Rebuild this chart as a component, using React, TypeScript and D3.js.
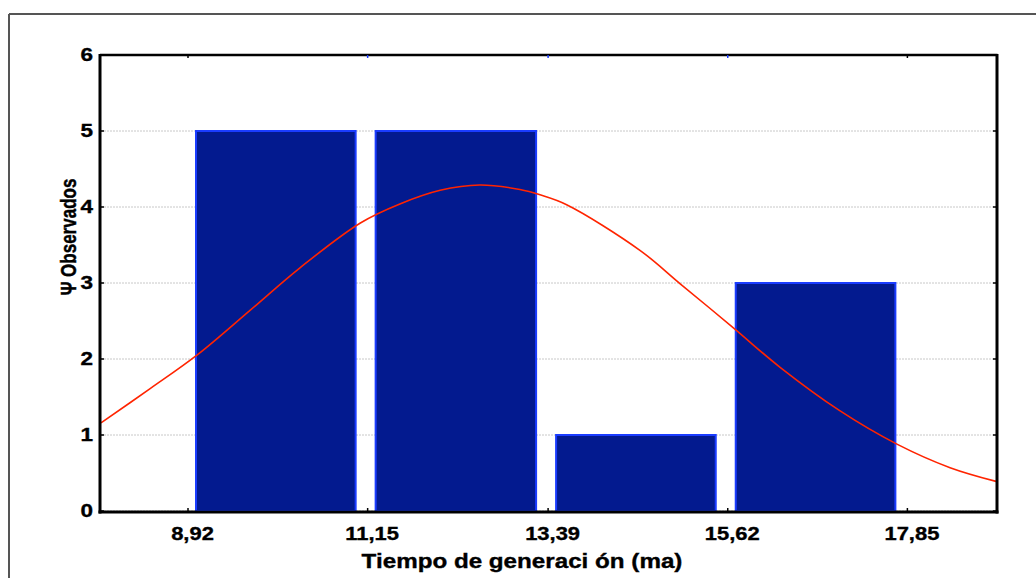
import React from "react";
import * as d3 from "d3";

const binEdges = [8.92, 11.15, 13.39, 15.62, 17.85];
const xTickLabels = ["8,92", "11,15", "13,39", "15,62", "17,85"];
const counts = [5, 5, 1, 3];
const yTicks = [0, 1, 2, 3, 4, 5, 6];
const curveX = [7.84, 8.45, 9.03, 9.69, 10.31, 11.06, 11.55, 12.05, 12.54, 13.04, 13.29, 13.62, 14.53, 15.03, 15.69, 16.27, 17.01, 17.72, 18.38, 18.95];
const curveY = [1.16, 1.61, 2.05, 2.64, 3.2, 3.79, 4.04, 4.22, 4.29, 4.23, 4.16, 4.03, 3.43, 2.99, 2.41, 1.89, 1.32, 0.88, 0.57, 0.39];

const W = 1036;
const H = 578;
const L = 101, R = 996, T = 55, B = 511;
const FONT = "'Liberation Sans', Arial, sans-serif";

export default function App() {
  const x = d3.scaleLinear().domain([7.84, 18.95]).range([L, R]);
  const y = d3.scaleLinear().domain([0, 6]).range([B, T]);
  const line = d3
    .line<number>()
    .x((_, i) => x(curveX[i]))
    .y((d) => y(d))
    .curve(d3.curveCatmullRom);

  const txt = { fontFamily: FONT, fontWeight: "bold" as const, fill: "#000", stroke: "#000", strokeWidth: 0.35 };

  return (
    <svg width={W} height={H} style={{ position: "absolute", left: 0, top: 0, background: "#fff" }}>
      {/* outer frame */}
      <line x1={9} y1={14} x2={W} y2={14} stroke="#555" strokeWidth={2} />
      <line x1={9} y1={14} x2={9} y2={H} stroke="#555" strokeWidth={2} />

      {/* gridlines */}
      {yTicks.slice(0, 6).map((t) => (
        <line key={"g" + t} x1={L} x2={R} y1={y(t)} y2={y(t)} stroke="#c8c8c8" strokeWidth={1} strokeDasharray="2,1" />
      ))}

      {/* bars */}
      {counts.map((c, i) => {
        const x0 = x(binEdges[i]) + 8;
        const x1 = x(binEdges[i + 1]) - 12;
        return (
          <rect key={"b" + i} x={x0} y={y(c)} width={x1 - x0} height={y(0) - y(c)} fill="#031a8f" stroke="#1a3cff" strokeWidth={2} />
        );
      })}

      {/* curve */}
      <path d={line(curveY) || ""} fill="none" stroke="#ff2400" strokeWidth={1.6} />

      {/* frame */}
      <line x1={L - 1} y1={T} x2={R + 1.5} y2={T} stroke="#000" strokeWidth={2.5} />
      <line x1={R + 1} y1={T - 1} x2={R + 1} y2={B + 2.5} stroke="#000" strokeWidth={3} />
      <line x1={L - 1} y1={T - 1} x2={L - 1} y2={B + 2.5} stroke="#000" strokeWidth={3} />
      <line x1={L - 2.5} y1={B + 1} x2={R + 2.5} y2={B + 1} stroke="#000" strokeWidth={3} />

      {/* y ticks */}
      {yTicks.map((t) => (
        <g key={"yt" + t}>
          <line x1={L} x2={L + 3} y1={y(t)} y2={y(t)} stroke="#000" strokeWidth={1.5} />
          <line x1={R - 3} x2={R} y1={y(t)} y2={y(t)} stroke="#000" strokeWidth={1.5} />
          <g transform={`translate(93,${y(t)}) scale(1.25,1)`}>
            <text textAnchor="end" dy="0.36em" fontSize={18} {...txt}>
              {t}
            </text>
          </g>
        </g>
      ))}

      {/* x ticks */}
      {binEdges.map((v, i) => (
        <g key={"xt" + i}>
          <line x1={x(v)} x2={x(v)} y1={B - 3} y2={B} stroke="#000" strokeWidth={1.5} />
          <line x1={x(v)} x2={x(v)} y1={T} y2={T + 3} stroke={i === 0 || i === binEdges.length - 1 ? "#000" : "#1a3cff"} strokeWidth={1.5} />
          <g transform={`translate(${x(v) + 4.5},540) scale(1.22,1)`}>
            <text textAnchor="middle" fontSize={18} {...txt}>
              {xTickLabels[i]}
            </text>
          </g>
        </g>
      ))}

      {/* axis titles */}
      <g transform="translate(522,568) scale(1.21,1)">
        <text textAnchor="middle" fontSize={20} {...txt}>
          Tiempo de generaci ón (ma)
        </text>
      </g>
      <g transform="translate(76,237) rotate(-90) scale(1,1.35)">
        <text textAnchor="middle" fontSize={17} {...txt}>
          Ψ Observados
        </text>
      </g>
    </svg>
  );
}
